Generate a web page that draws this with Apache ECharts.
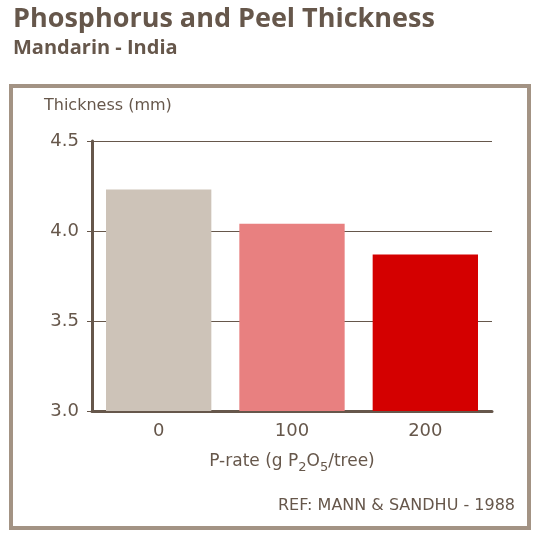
<!DOCTYPE html>
<html>
<head>
<meta charset="utf-8">
<script src="https://cdn.jsdelivr.net/npm/echarts@6/dist/echarts.min.js"></script>
<style>
  html, body { margin: 0; padding: 0; background: #fff; }
  #chart { width: 534px; height: 535px; }
</style>
</head>
<body>
<div id="chart"></div>
<script>
// data
var rates = ['0', '100', '200'];
var thickness = [4.23, 4.04, 3.87];
var barColors = ['#cdc3b8', '#e88080', '#d40000'];
var yTicks = [3.0, 3.5, 4.0, 4.5];

var ink = '#66574b';
var headFont = '"Open Sans", "Noto Sans", sans-serif';
var font = '"DejaVu Sans", sans-serif';

var myChart = echarts.init(document.getElementById('chart'));
var option = {
    animation: false,
    textStyle: { fontFamily: font },
    title: {
        text: 'Phosphorus and Peel Thickness',
        subtext: 'Mandarin - India',
        left: 8,
        top: 1,
        itemGap: 5,
        textStyle: { fontSize: 27, fontWeight: 'bold', color: ink, fontFamily: headFont },
        subtextStyle: { fontSize: 20, fontWeight: 'bold', color: ink, fontFamily: headFont }
    },
    grid: { left: 92, top: 141, width: 400, height: 270 },
    graphic: [
        {
            type: 'rect',
            shape: { x: 11, y: 86, width: 518, height: 442 },
            style: { fill: 'none', stroke: '#a39384', lineWidth: 4 }
        },
        {
            type: 'text',
            left: 44,
            top: 98,
            style: { text: 'Thickness (mm)', fontSize: 16, fill: ink, fontFamily: font }
        },
        {
            type: 'text',
            right: 19,
            top: 498,
            style: { text: 'REF: MANN & SANDHU - 1988', fontSize: 16, fill: ink, fontFamily: font }
        }
    ],
    xAxis: {
        type: 'category',
        data: rates,
        name: '{a|P-rate (g P}{s|2}{a|O}{s|5}{a|/tree)}',
        nameLocation: 'middle',
        nameGap: 42,
        nameTextStyle: {
            rich: {
                a: { fontSize: 17, color: ink, fontFamily: font, verticalAlign: 'top', lineHeight: 20 },
                s: { fontSize: 13, color: ink, fontFamily: font, verticalAlign: 'top', lineHeight: 20, padding: [8, 0, 0, 0] }
            }
        },
        axisLine: { lineStyle: { color: ink, width: 3 } },
        axisTick: { show: false },
        axisLabel: { fontSize: 18, color: ink, margin: 11 }
    },
    yAxis: {
        type: 'value',
        min: 3.0,
        max: 4.5,
        interval: 0.5,
        axisLine: { show: true, lineStyle: { color: ink, width: 3 } },
        axisTick: { show: true, length: 5, lineStyle: { color: ink, width: 1 } },
        axisLabel: {
            fontSize: 18,
            color: ink,
            margin: 13,
            formatter: function (v) { return yTicks.indexOf(v) >= 0 ? v.toFixed(1) : ''; }
        },
        splitLine: { lineStyle: { color: ink, width: 1 } }
    },
    series: [
        {
            type: 'bar',
            barCategoryGap: '21%',
            data: thickness.map(function (v, i) {
                return { value: v, itemStyle: { color: barColors[i] } };
            })
        }
    ]
};
myChart.setOption(option);
</script>
</body>
</html>
